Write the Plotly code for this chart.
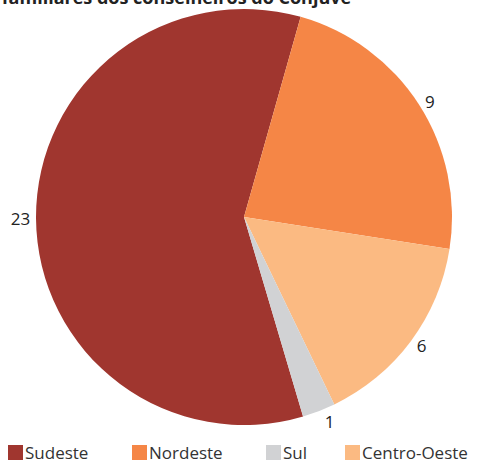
import plotly.graph_objects as go

# Data
pie_labels = ["Sudeste", "Nordeste", "Centro-Oeste", "Sul"]
pie_values = [23, 9, 6, 1]
legend_labels = ["Sudeste", "Nordeste", "Sul", "Centro-Oeste"]
colors = {"Sudeste": "#A0362F", "Nordeste": "#F58646", "Sul": "#D1D2D4", "Centro-Oeste": "#FBBA82"}
title_text = "Regiões de residências familiares dos conselheiros do Conjuve"

W, H = 477, 463
ml, mr, mt, mb = 36, 25, 9, 38

fig = go.Figure()
fig.add_trace(go.Pie(
    labels=pie_labels,
    values=pie_values,
    sort=False,
    direction="clockwise",
    rotation=163.5,
    marker=dict(colors=[colors[l] for l in pie_labels], line=dict(width=0)),
    textinfo="value",
    textposition="outside",
    textfont=dict(family="Open Sans", size=17, color="#222222"),
    showlegend=False,
    hoverinfo="label+value",
))

pw = W - ml - mr
ph = H - mt - mb
def px_x(x):
    return (x - ml) / pw
def px_y(y):
    return 1 - (y - mt) / ph

annotations = [dict(
    text="<b>" + title_text + "</b>", xref="paper", yref="paper",
    x=px_x(353), y=px_y(11), xanchor="right", yanchor="bottom",
    showarrow=False, font=dict(family="Open Sans", size=18, color="#222222"),
)]
shapes = []
# manual legend
leg_x = [8, 132, 266, 345]
for lab, x0 in zip(legend_labels, leg_x):
    shapes.append(dict(type="rect", xref="paper", yref="paper",
                       x0=px_x(x0), x1=px_x(x0 + 15), y0=px_y(460), y1=px_y(445),
                       fillcolor=colors[lab], line=dict(width=0)))
    annotations.append(dict(text=lab, xref="paper", yref="paper",
                            x=px_x(x0 + 16), y=px_y(452), xanchor="left", yanchor="middle",
                            borderpad=0,
                            showarrow=False, font=dict(family="Open Sans", size=17, color="#333333")))

fig.update_layout(
    width=W, height=H,
    margin=dict(l=ml, r=mr, t=mt, b=mb),
    paper_bgcolor="white", plot_bgcolor="white",
    annotations=annotations, shapes=shapes,
)
fig.write_html("out.html", config={"displayModeBar": False},
               post_script="document.body.style.margin='0';document.body.style.overflow='hidden';")
